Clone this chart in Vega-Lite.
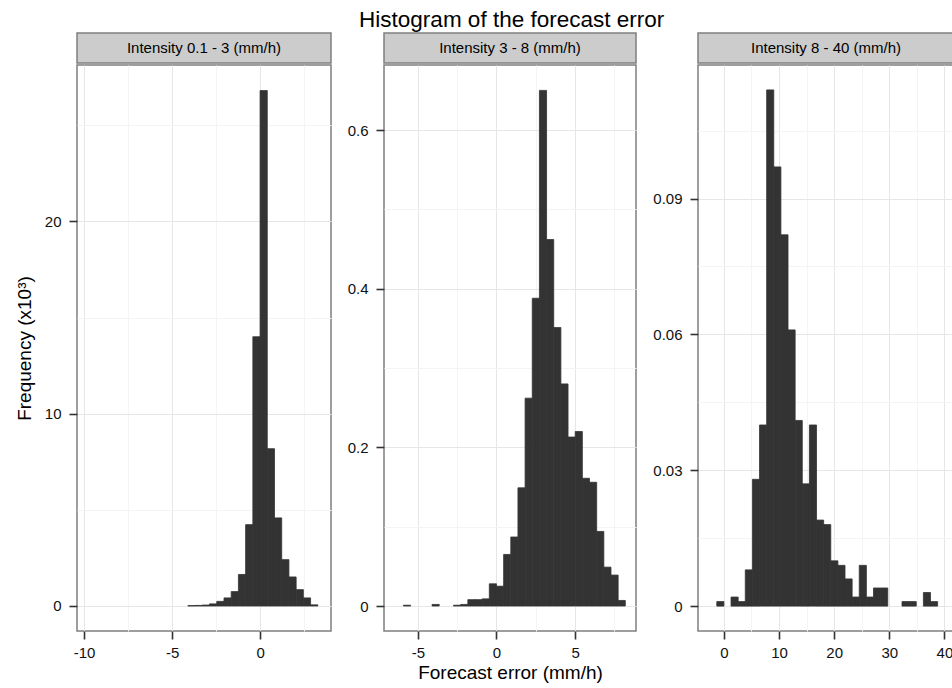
{
  "$schema": "https://vega.github.io/schema/vega-lite/v6.json",
  "padding": {"left": 14, "top": 8, "right": 0, "bottom": 0},
  "background": "white",
  "title": {"text": "Histogram of the forecast error", "fontSize": 22.5, "fontWeight": "normal", "font": "Liberation Sans", "color": "#000000", "anchor": "middle", "offset": 1, "dx": 27},
  "config": {
    "font": "Liberation Sans",
    "axis": {"domain": false, "tickColor": "#333333", "tickWidth": 1.6, "tickSize": 8, "labelPadding": 8, "labelFontSize": 15, "labelColor": "#111111", "labelFont": "Liberation Sans", "titleFont": "Liberation Sans", "titleFontSize": 19, "titleFontWeight": "normal", "titleColor": "#000000", "labelFlush": false, "labelOverlap": false, "gridWidth": 1},
    "axisX": {"labelPadding": 6},
    "concat": {"spacing": 14}
  },
  "datasets": {
    "p1": [
      {"x0": -4.10, "x1": -3.69, "freq": 0.02},
      {"x0": -3.69, "x1": -3.28, "freq": 0.03},
      {"x0": -3.28, "x1": -2.87, "freq": 0.05},
      {"x0": -2.87, "x1": -2.46, "freq": 0.11},
      {"x0": -2.46, "x1": -2.05, "freq": 0.24},
      {"x0": -2.05, "x1": -1.64, "freq": 0.42},
      {"x0": -1.64, "x1": -1.23, "freq": 0.75},
      {"x0": -1.23, "x1": -0.82, "freq": 1.64},
      {"x0": -0.82, "x1": -0.41, "freq": 4.23},
      {"x0": -0.41, "x1": 0.00, "freq": 14.0},
      {"x0": 0.00, "x1": 0.41, "freq": 26.8},
      {"x0": 0.41, "x1": 0.82, "freq": 8.18},
      {"x0": 0.82, "x1": 1.23, "freq": 4.58},
      {"x0": 1.23, "x1": 1.64, "freq": 2.41},
      {"x0": 1.64, "x1": 2.05, "freq": 1.51},
      {"x0": 2.05, "x1": 2.46, "freq": 0.85},
      {"x0": 2.46, "x1": 2.87, "freq": 0.42},
      {"x0": 2.87, "x1": 3.28, "freq": 0.06}
    ],
    "p2": [
      {"x0": -5.915, "x1": -5.46, "freq": 0.001},
      {"x0": -4.095, "x1": -3.64, "freq": 0.002},
      {"x0": -2.73, "x1": -2.275, "freq": 0.001},
      {"x0": -2.275, "x1": -1.82, "freq": 0.002},
      {"x0": -1.82, "x1": -1.365, "freq": 0.008},
      {"x0": -1.365, "x1": -0.91, "freq": 0.008},
      {"x0": -0.91, "x1": -0.455, "freq": 0.009},
      {"x0": -0.455, "x1": 0.0, "freq": 0.028},
      {"x0": 0.0, "x1": 0.455, "freq": 0.025},
      {"x0": 0.455, "x1": 0.91, "freq": 0.065},
      {"x0": 0.91, "x1": 1.365, "freq": 0.087},
      {"x0": 1.365, "x1": 1.82, "freq": 0.149},
      {"x0": 1.82, "x1": 2.275, "freq": 0.262},
      {"x0": 2.275, "x1": 2.73, "freq": 0.388},
      {"x0": 2.73, "x1": 3.185, "freq": 0.650},
      {"x0": 3.185, "x1": 3.64, "freq": 0.462},
      {"x0": 3.64, "x1": 4.095, "freq": 0.351},
      {"x0": 4.095, "x1": 4.55, "freq": 0.280},
      {"x0": 4.55, "x1": 5.005, "freq": 0.213},
      {"x0": 5.005, "x1": 5.46, "freq": 0.220},
      {"x0": 5.46, "x1": 5.915, "freq": 0.161},
      {"x0": 5.915, "x1": 6.37, "freq": 0.156},
      {"x0": 6.37, "x1": 6.825, "freq": 0.094},
      {"x0": 6.825, "x1": 7.28, "freq": 0.049},
      {"x0": 7.28, "x1": 7.735, "freq": 0.039},
      {"x0": 7.735, "x1": 8.19, "freq": 0.007}
    ],
    "p3": [
      {"x0": -1.292, "x1": 0.0, "freq": 0.001},
      {"x0": 1.292, "x1": 2.584, "freq": 0.002},
      {"x0": 2.584, "x1": 3.876, "freq": 0.001},
      {"x0": 3.876, "x1": 5.168, "freq": 0.008},
      {"x0": 5.168, "x1": 6.46, "freq": 0.028},
      {"x0": 6.46, "x1": 7.752, "freq": 0.040},
      {"x0": 7.752, "x1": 9.044, "freq": 0.114},
      {"x0": 9.044, "x1": 10.336, "freq": 0.097},
      {"x0": 10.336, "x1": 11.628, "freq": 0.082},
      {"x0": 11.628, "x1": 12.92, "freq": 0.061},
      {"x0": 12.92, "x1": 14.212, "freq": 0.041},
      {"x0": 14.212, "x1": 15.504, "freq": 0.027},
      {"x0": 15.504, "x1": 16.796, "freq": 0.040},
      {"x0": 16.796, "x1": 18.088, "freq": 0.019},
      {"x0": 18.088, "x1": 19.38, "freq": 0.018},
      {"x0": 19.38, "x1": 20.672, "freq": 0.010},
      {"x0": 20.672, "x1": 21.964, "freq": 0.009},
      {"x0": 21.964, "x1": 23.256, "freq": 0.006},
      {"x0": 23.256, "x1": 24.548, "freq": 0.002},
      {"x0": 24.548, "x1": 25.84, "freq": 0.009},
      {"x0": 25.84, "x1": 27.132, "freq": 0.002},
      {"x0": 27.132, "x1": 28.424, "freq": 0.004},
      {"x0": 28.424, "x1": 29.716, "freq": 0.004},
      {"x0": 32.3, "x1": 33.592, "freq": 0.001},
      {"x0": 33.592, "x1": 34.884, "freq": 0.001},
      {"x0": 36.176, "x1": 37.468, "freq": 0.003},
      {"x0": 37.468, "x1": 38.76, "freq": 0.001}
    ]
  },
  "hconcat": [
    {
      "spacing": 0,
      "vconcat": [
        {
          "width": 254, "height": 30,
          "data": {"values": [{"label": "Intensity 0.1 - 3 (mm/h)"}]},
          "view": {"fill": "#cccccc", "stroke": "#7f7f7f", "strokeWidth": 1.5},
          "mark": {"type": "text", "fontSize": 15, "font": "Liberation Sans", "color": "#000000"},
          "encoding": {"text": {"field": "label", "type": "nominal"}}
        },
        {
          "width": 254, "height": 566,
          "data": {"name": "p1"},
          "view": {"stroke": "#7f7f7f", "strokeWidth": 1.5},
          "mark": {"type": "bar", "color": "#333333", "stroke": "#333333", "strokeWidth": 0.8},
          "encoding": {
            "x": {"field": "x0", "type": "quantitative",
              "scale": {"domain": [-10.4, 4.03], "nice": false, "zero": false},
              "axis": {"title": null, "values": [-10, -7.5, -5, -2.5, 0, 2.5],
                "labelExpr": "indexof([-10, -5, 0], datum.value) >= 0 ? '' + datum.value : ''",
                "tickOpacity": {"condition": {"test": "indexof([-10, -5, 0], datum.value) >= 0", "value": 1}, "value": 0},
                "gridColor": {"condition": {"test": "indexof([-10, -5, 0], datum.value) >= 0", "value": "#e6e6e6"}, "value": "#f4f4f4"}}},
            "x2": {"field": "x1"},
            "y": {"field": "freq", "type": "quantitative",
              "scale": {"domain": [-1.3, 28.13], "nice": false, "zero": false},
              "axis": {"title": "Frequency  (x10³)", "titlePadding": 10, "values": [0, 5, 10, 15, 20, 25],
                "labelExpr": "indexof([0, 10, 20], datum.value) >= 0 ? '' + datum.value : ''",
                "tickOpacity": {"condition": {"test": "indexof([0, 10, 20], datum.value) >= 0", "value": 1}, "value": 0},
                "gridColor": {"condition": {"test": "indexof([0, 10, 20], datum.value) >= 0", "value": "#e6e6e6"}, "value": "#f4f4f4"}}},
            "y2": {"datum": 0}
          }
        }
      ]
    },
    {
      "spacing": 0,
      "vconcat": [
        {
          "width": 252, "height": 30,
          "data": {"values": [{"label": "Intensity 3 - 8 (mm/h)"}]},
          "view": {"fill": "#cccccc", "stroke": "#7f7f7f", "strokeWidth": 1.5},
          "mark": {"type": "text", "fontSize": 15, "font": "Liberation Sans", "color": "#000000"},
          "encoding": {"text": {"field": "label", "type": "nominal"}}
        },
        {
          "width": 252, "height": 566,
          "data": {"name": "p2"},
          "view": {"stroke": "#7f7f7f", "strokeWidth": 1.5},
          "mark": {"type": "bar", "color": "#333333", "stroke": "#333333", "strokeWidth": 0.8},
          "encoding": {
            "x": {"field": "x0", "type": "quantitative",
              "scale": {"domain": [-7.15, 8.87], "nice": false, "zero": false},
              "axis": {"title": "Forecast error (mm/h)", "titlePadding": 3, "values": [-5, -2.5, 0, 2.5, 5, 7.5],
                "labelExpr": "indexof([-5, 0, 5], datum.value) >= 0 ? '' + datum.value : ''",
                "tickOpacity": {"condition": {"test": "indexof([-5, 0, 5], datum.value) >= 0", "value": 1}, "value": 0},
                "gridColor": {"condition": {"test": "indexof([-5, 0, 5], datum.value) >= 0", "value": "#e6e6e6"}, "value": "#f4f4f4"}}},
            "x2": {"field": "x1"},
            "y": {"field": "freq", "type": "quantitative",
              "scale": {"domain": [-0.0315, 0.682], "nice": false, "zero": false},
              "axis": {"title": null, "values": [0, 0.1, 0.2, 0.3, 0.4, 0.5, 0.6],
                "labelExpr": "indexof([0, 0.2, 0.4, 0.6], datum.value) >= 0 ? '' + datum.value : ''",
                "tickOpacity": {"condition": {"test": "indexof([0, 0.2, 0.4, 0.6], datum.value) >= 0", "value": 1}, "value": 0},
                "gridColor": {"condition": {"test": "indexof([0, 0.2, 0.4, 0.6], datum.value) >= 0", "value": "#e6e6e6"}, "value": "#f4f4f4"}}},
            "y2": {"datum": 0}
          }
        }
      ]
    },
    {
      "spacing": 0,
      "vconcat": [
        {
          "width": 256, "height": 30,
          "data": {"values": [{"label": "Intensity 8 - 40 (mm/h)"}]},
          "view": {"fill": "#cccccc", "stroke": "#7f7f7f", "strokeWidth": 1.5},
          "mark": {"type": "text", "fontSize": 15, "font": "Liberation Sans", "color": "#000000"},
          "encoding": {"text": {"field": "label", "type": "nominal"}}
        },
        {
          "width": 256, "height": 566,
          "data": {"name": "p3"},
          "view": {"stroke": "#7f7f7f", "strokeWidth": 1.5},
          "mark": {"type": "bar", "color": "#333333", "stroke": "#333333", "strokeWidth": 0.8},
          "encoding": {
            "x": {"field": "x0", "type": "quantitative",
              "scale": {"domain": [-4.7, 41.73], "nice": false, "zero": false},
              "axis": {"title": null, "values": [0, 5, 10, 15, 20, 25, 30, 35, 40],
                "labelExpr": "indexof([0, 10, 20, 30, 40], datum.value) >= 0 ? '' + datum.value : ''",
                "tickOpacity": {"condition": {"test": "indexof([0, 10, 20, 30, 40], datum.value) >= 0", "value": 1}, "value": 0},
                "gridColor": {"condition": {"test": "indexof([0, 10, 20, 30, 40], datum.value) >= 0", "value": "#e6e6e6"}, "value": "#f4f4f4"}}},
            "x2": {"field": "x1"},
            "y": {"field": "freq", "type": "quantitative",
              "scale": {"domain": [-0.0055, 0.1195], "nice": false, "zero": false},
              "axis": {"title": null, "minExtent": 46, "values": [0, 0.015, 0.03, 0.045, 0.06, 0.075, 0.09, 0.105],
                "labelExpr": "indexof([0, 0.03, 0.06, 0.09], datum.value) >= 0 ? '' + datum.value : ''",
                "tickOpacity": {"condition": {"test": "indexof([0, 0.03, 0.06, 0.09], datum.value) >= 0", "value": 1}, "value": 0},
                "gridColor": {"condition": {"test": "indexof([0, 0.03, 0.06, 0.09], datum.value) >= 0", "value": "#e6e6e6"}, "value": "#f4f4f4"}}},
            "y2": {"datum": 0}
          }
        }
      ]
    }
  ]
}
